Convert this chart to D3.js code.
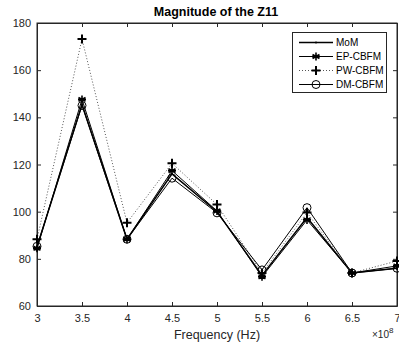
<!DOCTYPE html>
<html>
<head>
<meta charset="utf-8">
<script src="https://cdn.jsdelivr.net/npm/d3@7"></script>
<style>
body { margin: 0; background: #fff; }
text { font-family: "Liberation Sans", Arial, sans-serif; }
</style>
</head>
<body>
<div id="chart"></div>
<script>
// frequencies in units of 1e8 Hz
var freq = [3, 3.5, 4, 4.5, 5, 5.5, 6, 6.5, 7];
var xTicks = [3, 3.5, 4, 4.5, 5, 5.5, 6, 6.5, 7];
var yTicks = [60, 80, 100, 120, 140, 160, 180];
var momVals = [85, 145.5, 88.3, 116, 100, 73, 97.5, 74, 76];
var epVals = [84.5, 147.6, 88.3, 117.4, 100.3, 72.4, 96.5, 74, 77];
var pwVals = [88.3, 173.2, 95.3, 120.5, 103, 74, 99.6, 74, 79.1];
var dmVals = [85.3, 145, 88.3, 114.2, 99.5, 75.3, 101.7, 74, 76];
var seriesNames = ['MoM', 'EP-CBFM', 'PW-CBFM', 'DM-CBFM'];

var width = 399, height = 342;
var plotL = 37, plotR = 397, plotT = 23, plotB = 306;
var axisColor = '#262626';

var svg = d3.select('#chart').append('svg')
	.attr('width', width)
	.attr('height', height);

var x = d3.scaleLinear().domain([3, 7]).range([plotL, plotR]);
var y = d3.scaleLinear().domain([60, 180]).range([plotB, plotT]);

// box around the plot
svg.append('rect')
	.attr('x', plotL).attr('y', plotT)
	.attr('width', plotR - plotL).attr('height', plotB - plotT)
	.attr('fill', '#fff')
	.attr('stroke', axisColor)
	.attr('stroke-width', 1);

// axes with inward ticks, also on top and right
var fmt = function(d) { return d3.format('')(d); };
var gx = svg.append('g').attr('transform', 'translate(0,' + plotB + ')')
	.call(d3.axisBottom(x).tickValues(xTicks).tickFormat(fmt).tickSizeInner(-4).tickSizeOuter(0).tickPadding(8));
var gxTop = svg.append('g').attr('transform', 'translate(0,' + plotT + ')')
	.call(d3.axisTop(x).tickValues(xTicks).tickFormat('').tickSizeInner(-4).tickSizeOuter(0));
var gy = svg.append('g').attr('transform', 'translate(' + plotL + ',0)')
	.call(d3.axisLeft(y).tickValues(yTicks).tickSizeInner(-4).tickSizeOuter(0).tickPadding(6));
var gyRight = svg.append('g').attr('transform', 'translate(' + plotR + ',0)')
	.call(d3.axisRight(y).tickValues(yTicks).tickFormat('').tickSizeInner(-4).tickSizeOuter(0));

[gx, gxTop, gy, gyRight].forEach(function(g) {
	g.select('.domain').attr('stroke', axisColor);
	g.selectAll('.tick line').attr('stroke', axisColor);
	g.selectAll('.tick text').attr('fill', axisColor)
		.style('font-size', '11px')
		.style('font-family', '"Liberation Sans", Arial, sans-serif');
});

// labels
svg.append('text')
	.attr('x', 216).attr('y', 16)
	.attr('text-anchor', 'middle')
	.style('font-size', '12.5px').style('font-weight', 'bold')
	.attr('fill', '#000')
	.text('Magnitude of the Z11');

svg.append('text')
	.attr('x', (plotL + plotR) / 2).attr('y', 339)
	.attr('text-anchor', 'middle')
	.style('font-size', '12.5px')
	.attr('fill', axisColor)
	.text('Frequency (Hz)');

var expo = svg.append('text')
	.attr('x', 372).attr('y', 338)
	.style('font-size', '10px')
	.attr('fill', axisColor);
expo.append('tspan').text('\u00d710');
expo.append('tspan').attr('dy', -5).style('font-size', '8px').text('8');

// series
var series = [
	{ name: seriesNames[0], vals: momVals, dash: null, width: 1.5, marker: 'dot' },
	{ name: seriesNames[1], vals: epVals, dash: null, width: 1, marker: 'star' },
	{ name: seriesNames[2], vals: pwVals, dash: '1,2', width: 1, marker: 'plus' },
	{ name: seriesNames[3], vals: dmVals, dash: null, width: 1, marker: 'circle' }
];

var line = d3.line()
	.x(function(d) { return x(d[0]); })
	.y(function(d) { return y(d[1]); });

function drawMarker(g, kind, cx, cy) {
	if (kind === 'dot') {
		g.append('circle').attr('cx', cx).attr('cy', cy).attr('r', 1).attr('fill', '#000');
	} else if (kind === 'plus') {
		g.append('path')
			.attr('d', 'M' + (cx - 4.5) + ',' + cy + 'H' + (cx + 4.5) + 'M' + cx + ',' + (cy - 4.5) + 'V' + (cy + 4.5))
			.attr('stroke', '#000').attr('stroke-width', 2).attr('fill', 'none');
	} else if (kind === 'star') {
		var r = 4, p = '';
		[0, 60, 120].forEach(function(a) {
			var t = (a + 90) * Math.PI / 180;
			p += 'M' + (cx - r * Math.cos(t)) + ',' + (cy - r * Math.sin(t)) + 'L' + (cx + r * Math.cos(t)) + ',' + (cy + r * Math.sin(t));
		});
		p += 'M' + (cx - r) + ',' + cy + 'H' + (cx + r);
		g.append('path').attr('d', p).attr('stroke', '#000').attr('stroke-width', 1.6).attr('fill', 'none');
	} else if (kind === 'circle') {
		g.append('circle').attr('cx', cx).attr('cy', cy).attr('r', 4)
			.attr('fill', 'none').attr('stroke', '#000').attr('stroke-width', 1);
	}
}

series.forEach(function(s) {
	var pts = freq.map(function(f, i) { return [f, s.vals[i]]; });
	var g = svg.append('g');
	g.append('path')
		.datum(pts)
		.attr('d', line)
		.attr('fill', 'none')
		.attr('stroke', s.dash ? '#555' : '#000')
		.attr('stroke-width', s.width)
		.attr('stroke-dasharray', s.dash);
	pts.forEach(function(p) { drawMarker(g, s.marker, x(p[0]), y(p[1])); });
});

// legend
var lg = svg.append('g');
lg.append('rect')
	.attr('x', 292.5).attr('y', 32.5).attr('width', 94).attr('height', 60)
	.attr('fill', '#fff').attr('stroke', axisColor).attr('stroke-width', 1);
series.forEach(function(s, i) {
	var ly = 42.5 + i * 14;
	lg.append('line')
		.attr('x1', 299).attr('x2', 333).attr('y1', ly).attr('y2', ly)
		.attr('stroke', s.dash ? '#555' : '#000')
		.attr('stroke-width', s.width)
		.attr('stroke-dasharray', s.dash);
	drawMarker(lg, s.marker, 316, ly);
	lg.append('text')
		.attr('x', 336).attr('y', ly + 3.5)
		.style('font-size', '10px')
		.attr('fill', '#000')
		.text(s.name);
});
</script>
</body>
</html>
